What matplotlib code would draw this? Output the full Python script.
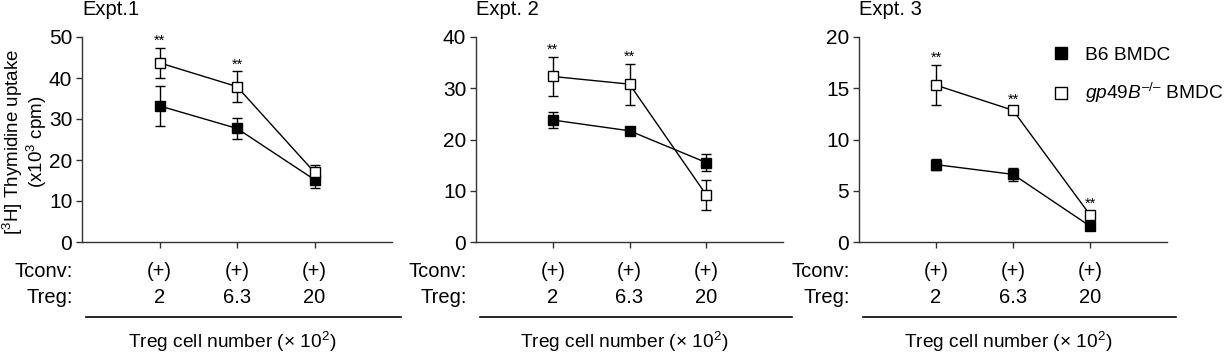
import matplotlib
matplotlib.use("Agg")
import matplotlib.pyplot as plt
from matplotlib.lines import Line2D
from matplotlib.transforms import blended_transform_factory

plt.rcParams["font.family"] = ["Liberation Sans", "DejaVu Sans"]
plt.rcParams["mathtext.fontset"] = "custom"
plt.rcParams["mathtext.rm"] = "Liberation Sans"
plt.rcParams["mathtext.it"] = "Liberation Sans:italic"

# data
positions = [1, 2, 3]
tconv_labels = ["(+)", "(+)", "(+)"]
treg_labels = ["2", "6.3", "20"]
titles = ["Expt.1", "Expt. 2", "Expt. 3"]
y_max = [50, 40, 20]
y_step = [10, 10, 5]

b6_mean_1 = [33.2, 27.7, 15.2]
b6_err_1 = [4.9, 2.5, 2.1]
gp_mean_1 = [43.7, 37.9, 17.0]
gp_err_1 = [3.7, 3.7, 1.8]

b6_mean_2 = [23.8, 21.7, 15.5]
b6_err_2 = [1.5, 0.7, 1.7]
gp_mean_2 = [32.3, 30.8, 9.2]
gp_err_2 = [3.8, 4.0, 2.9]

b6_mean_3 = [7.55, 6.6, 1.55]
b6_err_3 = [0.5, 0.65, 0.25]
gp_mean_3 = [15.3, 12.85, 2.65]
gp_err_3 = [1.95, 0.3, 0.4]

stars_1 = [0, 1]
stars_2 = [0, 1]
stars_3 = [0, 1, 2]

b6_means = [b6_mean_1, b6_mean_2, b6_mean_3]
b6_errs = [b6_err_1, b6_err_2, b6_err_3]
gp_means = [gp_mean_1, gp_mean_2, gp_mean_3]
gp_errs = [gp_err_1, gp_err_2, gp_err_3]
stars = [stars_1, stars_2, stars_3]

fig = plt.figure(figsize=(12.27, 3.53), dpi=100)
W, H = 1227, 353
ax_px = [(82, 392), (476, 783), (859, 1167)]
top_px, bot_px = 37, 242

axis_col = "#333333"
for i, (x0, x1) in enumerate(ax_px):
    ax = fig.add_axes([x0 / W, 1 - bot_px / H, (x1 - x0) / W, (bot_px - top_px) / H])
    ax.errorbar(positions, b6_means[i], yerr=b6_errs[i], color="black", lw=1,
                marker="s", ms=7, mfc="black", mec="black", capsize=3.5,
                elinewidth=1, capthick=1, zorder=3)
    ax.errorbar(positions, gp_means[i], yerr=gp_errs[i], color="black", lw=1,
                marker="s", ms=7, mfc="white", mec="black", mew=1, capsize=3.5,
                elinewidth=1, capthick=1, zorder=4)
    for k in stars[i]:
        ax.annotate("**", (positions[k], gp_means[i][k] + gp_errs[i][k]),
                    xytext=(0, 5), textcoords="offset points",
                    ha="center", va="center", fontsize=10.5, zorder=5)

    ax.set_xlim(0, 4)
    ax.set_ylim(0, y_max[i])
    ax.set_yticks(range(0, y_max[i] + 1, y_step[i]))
    ax.set_xticks(positions)
    ax.set_xticklabels([])
    for s in ["top", "right"]:
        ax.spines[s].set_visible(False)
    for s in ["left", "bottom"]:
        ax.spines[s].set_color(axis_col)
        ax.spines[s].set_linewidth(1)
    ax.tick_params(axis="y", direction="out", length=4, width=1, color=axis_col,
                   labelsize=15, pad=3)
    ax.tick_params(axis="x", direction="out", length=4.5, width=1, color=axis_col)
    ax.patch.set_alpha(0)

    fig.text(x0 / W, 1 - 15 / H, titles[i], fontsize=14.5, ha="left", va="baseline")

    tr = blended_transform_factory(ax.transData, fig.transFigure)
    for p, tc, tg in zip(positions, tconv_labels, treg_labels):
        ax.text(p, 1 - 277 / H, tc, transform=tr, ha="center", va="baseline", fontsize=14.5)
        ax.text(p, 1 - 303 / H, tg, transform=tr, ha="center", va="baseline", fontsize=14.5)
    fig.text((x0 - 9) / W, 1 - 277 / H, "Tconv:", ha="right", va="baseline", fontsize=14.5)
    fig.text((x0 - 9) / W, 1 - 303 / H, "Treg:", ha="right", va="baseline", fontsize=14.5)
    fig.add_artist(Line2D([(x0 + 4) / W, (x1 + 9) / W], [1 - 317 / H, 1 - 317 / H],
                          color="black", lw=1.2, transform=fig.transFigure))
    fig.text((x0 + x1 - 10) / 2 / W, 1 - 348 / H, r"Treg cell number ($\times$ 10$^2$)",
             ha="center", va="baseline", fontsize=13.8)

    if i == 0:
        ax.set_ylabel("[$^3$H] Thymidine uptake\n(x10$^3$ cpm)", fontsize=13.5,
                      linespacing=1.0)
        ax.yaxis.set_label_coords(-0.106, 0.49)
    if i == 2:
        handles = [
            Line2D([], [], ls="none", marker="s", ms=8.5, mfc="black", mec="black"),
            Line2D([], [], ls="none", marker="s", ms=8.5, mfc="white", mec="black", mew=1),
        ]
        ax.legend(handles, ["B6 BMDC", r"$\mathit{gp49B}^{\mathrm{–/–}}$ BMDC"],
                  loc="upper left", bbox_to_anchor=(0.599, 0.99), frameon=False,
                  fontsize=13.8, handlelength=1.0, handletextpad=0.76,
                  labelspacing=0.9, borderaxespad=0)

fig.savefig("out.png", dpi=100)
